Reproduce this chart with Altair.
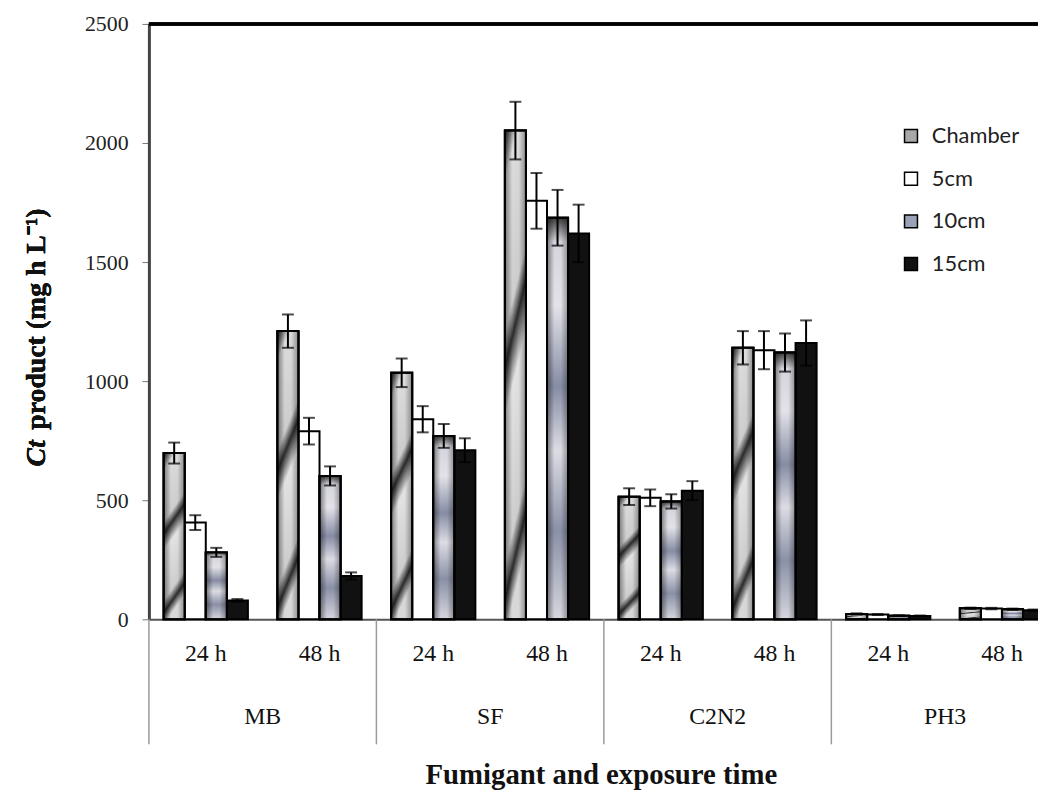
import altair as alt
import pandas as pd

# ---- data ----
fumigants = ["MB", "MB", "SF", "SF", "C2N2", "C2N2", "PH3", "PH3"]
times = ["24 h", "48 h", "24 h", "48 h", "24 h", "48 h", "24 h", "48 h"]
series = ["Chamber", "5cm", "10cm", "15cm"]

chamber = [698, 1210, 1035, 2052, 515, 1140, 22, 46]
cm5 = [406, 790, 840, 1757, 510, 1130, 20, 45]
cm10 = [281, 602, 770, 1686, 495, 1120, 15, 42]
cm15 = [79, 182, 710, 1620, 540, 1160, 14, 38]

chamber_err = [44, 70, 60, 121, 35, 70, 3, 3]
cm5_err = [31, 56, 55, 117, 35, 80, 2, 3]
cm10_err = [19, 40, 50, 117, 30, 80, 2, 3]
cm15_err = [6, 15, 50, 121, 40, 95, 2, 3]

values = {"Chamber": chamber, "5cm": cm5, "10cm": cm10, "15cm": cm15}
errors = {"Chamber": chamber_err, "5cm": cm5_err, "10cm": cm10_err, "15cm": cm15_err}

keys = [f"{f}|{t}" for f, t in zip(fumigants, times)]
rows = []
for s in series:
    for i, k in enumerate(keys):
        v = values[s][i]
        e = errors[s][i]
        rows.append({"key": k, "fumigant": fumigants[i], "time": times[i],
                     "series": s, "value": v, "lo": v - e, "hi": v + e})
df = pd.DataFrame(rows)

fum_unique = ["MB", "SF", "C2N2", "PH3"]
fum_df = pd.DataFrame({"fumigant": fum_unique,
                       "key": [f"{f}|24 h" for f in fum_unique]})

# visible plot area (the original figure is cut off at the right edge)
W, H = 896, 600
FULL_W = 917
SERIF = "Liberation Serif"

xscale = alt.Scale(domain=keys, range=[0, FULL_W], paddingInner=0, paddingOuter=0)
xaxis = alt.Axis(title=None, labelExpr="split(datum.label, '|')[1]", ticks=False,
                 labelAngle=0, labelFont=SERIF, labelFontSize=24, labelColor="#111",
                 labelPadding=23, domainColor="#555", domainWidth=2)
xoff = alt.XOffset("series:N", scale=alt.Scale(domain=series, paddingInner=0, paddingOuter=0.7))
yscale = alt.Scale(domain=[0, 2500])
yaxis = alt.Axis(title=None, values=[0, 500, 1000, 1500, 2000, 2500], format="d", grid=False,
                 labelFont=SERIF, labelFontSize=22, labelColor="#222",
                 tickColor="#777", tickSize=7, labelPadding=14,
                 domainColor="#444", domainWidth=3)

base = alt.Chart(df)

bars = base.mark_bar(stroke="black", strokeWidth=2).encode(
    x=alt.X("key:N", scale=xscale, axis=xaxis),
    xOffset=xoff,
    y=alt.Y("value:Q", scale=yscale, axis=yaxis),
    fill=alt.Fill("series:N",
                  scale=alt.Scale(domain=series,
                                  range=["#a8a8a8", "#ffffff", "#9ba1b6", "#111111"]),
                  legend=alt.Legend(title=None, orient="none", legendX=757, legendY=102,
                                    symbolType="square", symbolSize=170,
                                    symbolStrokeColor="black", symbolStrokeWidth=1.5,
                                    labelFont="Lato", labelFontSize=22, labelColor="#222",
                                    rowPadding=21, labelOffset=10, padding=0)),
)

chamber_grad = alt.Gradient(
    gradient="linear", x1=0, y1=0, x2=0.18, y2=1,
    stops=[alt.GradientStop(offset=0.0, color="#2b2b2b"),
           alt.GradientStop(offset=0.10, color="#dcdcdc"),
           alt.GradientStop(offset=0.40, color="#cdcdcd"),
           alt.GradientStop(offset=0.47, color="#2b2b2b"),
           alt.GradientStop(offset=0.57, color="#e2e2e2"),
           alt.GradientStop(offset=0.86, color="#cdcdcd"),
           alt.GradientStop(offset=0.93, color="#2b2b2b"),
           alt.GradientStop(offset=1.0, color="#d8d8d8")])

cm10_grad = alt.Gradient(
    gradient="linear", x1=0, y1=0, x2=0, y2=1,
    stops=[alt.GradientStop(offset=0.0, color="#3a3a3a"),
           alt.GradientStop(offset=0.06, color="#d4d4dc"),
           alt.GradientStop(offset=0.22, color="#e2e2e8"),
           alt.GradientStop(offset=0.42, color="#868ca4"),
           alt.GradientStop(offset=0.58, color="#dcdce4"),
           alt.GradientStop(offset=0.78, color="#8a90a6"),
           alt.GradientStop(offset=1.0, color="#d6d6de")])

edge_grad = alt.Gradient(
    gradient="linear", x1=0, y1=0, x2=1, y2=0,
    stops=[alt.GradientStop(offset=0.0, color="rgba(0,0,0,0.45)"),
           alt.GradientStop(offset=0.35, color="rgba(0,0,0,0)"),
           alt.GradientStop(offset=0.65, color="rgba(0,0,0,0)"),
           alt.GradientStop(offset=1.0, color="rgba(0,0,0,0.35)")])

enc = dict(x=alt.X("key:N", scale=xscale, axis=xaxis), xOffset=xoff,
           y=alt.Y("value:Q", scale=yscale, axis=yaxis))

ch_layer = base.transform_filter(alt.datum.series == "Chamber").mark_bar(
    fill=chamber_grad, stroke="black", strokeWidth=2).encode(**enc)
c10_layer = base.transform_filter(alt.datum.series == "10cm").mark_bar(
    fill=cm10_grad, stroke="black", strokeWidth=2).encode(**enc)
shade = base.transform_filter(
    (alt.datum.series == "Chamber") | (alt.datum.series == "10cm")).mark_bar(
    fill=edge_grad, stroke="black", strokeWidth=2).encode(**enc)

err_rule = base.mark_rule(color="black", strokeWidth=2).encode(
    x=alt.X("key:N", scale=xscale, axis=xaxis), xOffset=xoff,
    y=alt.Y("lo:Q", scale=yscale, axis=yaxis), y2="hi:Q")
cap_lo = base.mark_tick(color="black", thickness=2, size=12).encode(
    x=alt.X("key:N", scale=xscale, axis=xaxis), xOffset=xoff,
    y=alt.Y("lo:Q", scale=yscale, axis=yaxis))
cap_hi = base.mark_tick(color="black", thickness=2, size=12).encode(
    x=alt.X("key:N", scale=xscale, axis=xaxis), xOffset=xoff,
    y=alt.Y("hi:Q", scale=yscale, axis=yaxis))

fbase = alt.Chart(fum_df)
seps = fbase.mark_rule(color="#9a9a9a", strokeWidth=1.5).encode(
    x=alt.X("key:N", scale=xscale, axis=xaxis, bandPosition=0),
    y=alt.value(H), y2=alt.value(H + 126))
fum_text = fbase.mark_text(font=SERIF, fontSize=24, color="#111", baseline="middle").encode(
    x=alt.X("key:N", scale=xscale, axis=xaxis, bandPosition=1),
    y=alt.value(H + 99), text="fumigant:N")

top_line = fbase.mark_rule(color="black", strokeWidth=3).encode(
    x=alt.value(0), x2=alt.value(FULL_W), y=alt.value(0))

ytitle_ct = fbase.mark_text(text="Ct", font=SERIF, fontSize=28, fontWeight="bold",
                            fontStyle="italic", angle=270, align="left",
                            baseline="middle", color="#111").encode(
    x=alt.value(-113), y=alt.value(446))
ytitle_rest = fbase.mark_text(text="product (mg h L⁻¹)", font=SERIF, fontSize=28,
                              fontWeight="bold", angle=270, align="left",
                              baseline="middle", color="#111").encode(
    x=alt.value(-113), y=alt.value(409))

chart = alt.layer(
    bars, ch_layer, c10_layer, shade, err_rule, cap_lo, cap_hi,
    seps, fum_text, top_line, ytitle_ct, ytitle_rest
).properties(
    width=W, height=H,
    autosize=alt.AutoSizeParams(type="none"),
    padding={"left": 142, "top": 13, "right": 0, "bottom": 169},
    title=alt.TitleParams("Fumigant and exposure time", orient="bottom",
                          font=SERIF, fontSize=29, fontWeight="bold", color="#111",
                          offset=16, anchor="middle", frame="group", dx=8),
).configure_view(stroke=None)

chart.save("out.html", embed_options={"renderer": "svg", "actions": False})
